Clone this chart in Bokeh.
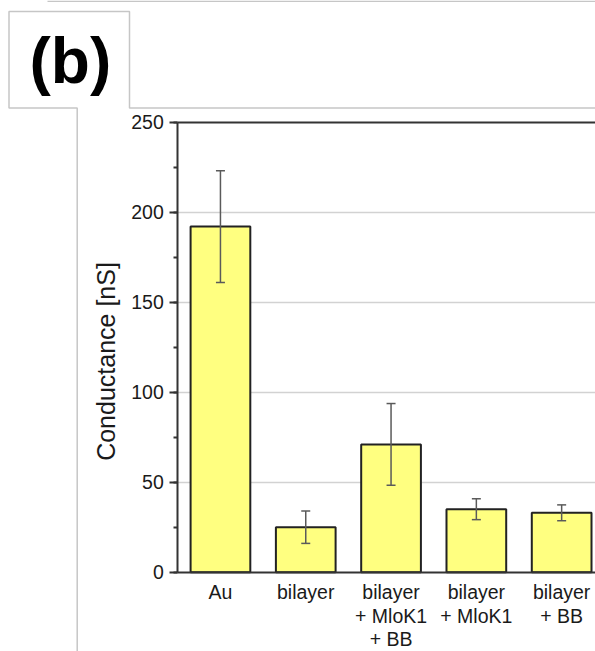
import math
from bokeh.plotting import figure
from bokeh.models import (Range1d, ColumnDataSource, Whisker, TeeHead, LinearAxis,
                          FixedTicker, SingleIntervalTicker, Label)
from bokeh.embed import file_html
from bokeh.resources import INLINE

# ---- data ----
categories = ["Au", "bilayer", "bilayer\n+ MloK1\n+ BB", "bilayer\n+ MloK1", "bilayer\n+ BB"]
conductance = [192, 25, 71, 35, 33]
conductance_err = [31, 9, 22.7, 5.8, 4.4]
y_ticks = [0, 50, 100, 150, 200, 250]
grid_values = [50, 100, 150, 200]
panel_label = "(b)"
y_label = "Conductance [nS]"

FONT = "Liberation Sans"
W, H = 595, 651
# chart placement on the canvas (pixels)
AX_X, AX_Y0 = 177.3, 571.7     # y axis line x, y=0 line
PX_PER_CAT, PX_PER_UNIT = 85.3, 1.8

x_lo = -0.5
x_start = x_lo - AX_X / PX_PER_CAT
x_end = x_lo + (W - AX_X) / PX_PER_CAT
y_start = -(H - AX_Y0) / PX_PER_UNIT
y_end = AX_Y0 / PX_PER_UNIT

xs = list(range(len(categories)))
src = ColumnDataSource(dict(
    x=xs,
    top=conductance,
    upper=[v + e for v, e in zip(conductance, conductance_err)],
    lower=[v - e for v, e in zip(conductance, conductance_err)],
))

p = figure(width=W, height=H,
           x_range=Range1d(x_start, x_end), y_range=Range1d(y_start, y_end),
           min_border=0, outline_line_color=None,
           output_backend="svg", toolbar_location=None,
           background_fill_color="white", border_fill_color="white")

# pixel-coordinate ranges for the page decorations
p.extra_x_ranges = {"px": Range1d(0, W)}
p.extra_y_ranges = {"px": Range1d(H, 0)}

# page decorations (panel frames) behind the chart
GRAY = "#c6c6c6"
p.line(x=[76.7, 76.7, 8.5, 8.5, 129, 129, W], y=[H, 107.5, 107.5, 11, 11, 107.5, 107.5],
       x_range_name="px", y_range_name="px", line_color=GRAY, line_width=1.5)
p.line(x=[47, W], y=[0.8, 0.8], x_range_name="px", y_range_name="px",
       line_color=GRAY, line_width=1.5)

# grid
p.xgrid.visible = False
g = p.ygrid[0]
g.ticker = FixedTicker(ticks=grid_values)
g.grid_line_color = "#d2d2d2"
g.grid_line_width = 1.5
g.cross_bounds = (x_lo, x_end)

# bars
p.vbar(x="x", top="top", bottom=0, width=0.70, source=src,
       fill_color="#ffff80", line_color="#222222", line_width=2)

# error bars
wh = Whisker(base="x", upper="upper", lower="lower", source=src,
             line_color="#5a5a5a", line_width=1.5, level="overlay",
             upper_head=TeeHead(size=9, line_color="#5a5a5a", line_width=1.5),
             lower_head=TeeHead(size=9, line_color="#5a5a5a", line_width=1.5))
p.add_layout(wh)

# y axis
ya = p.yaxis[0]
ya.fixed_location = x_lo
ya.bounds = (y_ticks[0], y_ticks[-1])
ya.ticker = SingleIntervalTicker(interval=50, num_minor_ticks=2)
ya.major_label_text_font = FONT
ya.major_label_text_font_size = "19.5px"
ya.major_label_text_color = "#1a1a1a"
ya.major_label_standoff = 6
ya.axis_line_color = "#333333"
ya.axis_line_width = 2
ya.major_tick_line_color = "#333333"
ya.major_tick_line_width = 2
ya.major_tick_in = 0
ya.major_tick_out = 8
ya.minor_tick_line_color = "#333333"
ya.minor_tick_line_width = 2
ya.minor_tick_in = 0
ya.minor_tick_out = 4

# y axis title (placed as in the reference, slightly below the axis centre)
p.add_layout(Label(x=105, y=361, x_range_name="px", y_range_name="px",
                   text=y_label, angle=math.pi / 2, text_font=FONT,
                   text_font_size="25px", text_color="#1a1a1a",
                   text_align="center", text_baseline="middle"))

# x axis
xa = p.xaxis[0]
xa.fixed_location = y_ticks[0]
xa.bounds = (x_lo, x_end)
xa.ticker = FixedTicker(ticks=xs)
xa.major_label_overrides = {i: c for i, c in zip(xs, categories)}
xa.major_label_text_font = FONT
xa.major_label_text_font_size = "19.5px"
xa.major_label_text_color = "#1a1a1a"
xa.major_label_text_line_height = 1.07
xa.major_label_standoff = 9
xa.axis_line_color = "#333333"
xa.axis_line_width = 2
xa.major_tick_line_color = None
xa.major_tick_in = 0
xa.major_tick_out = 0
xa.minor_tick_line_color = None

# top frame line
top_axis = LinearAxis(fixed_location=y_ticks[-1], bounds=(x_lo, x_end),
                      ticker=FixedTicker(ticks=[]), axis_line_color="#333333",
                      axis_line_width=2, major_tick_line_color=None,
                      minor_tick_line_color=None, major_tick_out=0, minor_tick_out=0)
p.add_layout(top_axis, "above")

# panel letter
p.add_layout(Label(x=29, y=60.6, x_range_name="px", y_range_name="px",
                   text=panel_label, text_font=FONT, text_font_size="64px",
                   text_font_style="bold", text_color="black",
                   text_baseline="alphabetic", text_align="left"))

open("out.html", "w").write(file_html(p, INLINE))
